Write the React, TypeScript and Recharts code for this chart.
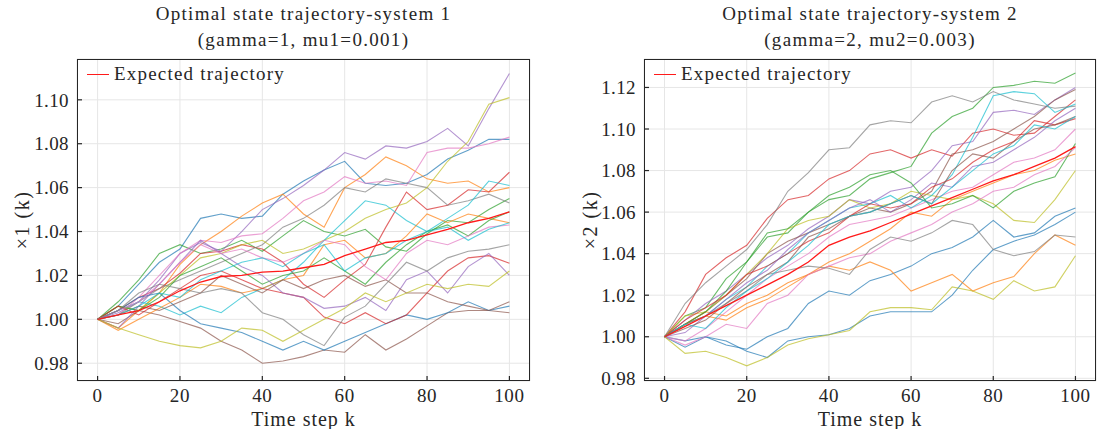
import React from 'react';
import { LineChart, Line, XAxis, YAxis, CartesianGrid } from 'recharts';

// ---- categories / ticks ----
const STEPS = [0, 5, 10, 15, 20, 25, 30, 35, 40, 45, 50, 55, 60, 65, 70, 75, 80, 85, 90, 95, 100];
const X_TICKS = [0, 20, 40, 60, 80, 100];
const Y1_TICKS = [0.98, 1.0, 1.02, 1.04, 1.06, 1.08, 1.1];
const Y2_TICKS = [0.98, 1.0, 1.02, 1.04, 1.06, 1.08, 1.1, 1.12];

const TITLE1 = ['Optimal state trajectory-system 1', '(gamma=1, mu1=0.001)'];
const TITLE2 = ['Optimal state trajectory-system 2', '(gamma=2, mu2=0.003)'];
const YLABEL1 = '\u00d71 (k)';
const YLABEL2 = '\u00d72 (k)';
const XLABEL = 'Time step k';
const LEGEND_LABEL = 'Expected trajectory';

const TAB10 = ['#1f77b4', '#ff7f0e', '#2ca02c', '#d62728', '#9467bd', '#8c564b', '#e377c2', '#7f7f7f', '#bcbd22', '#17becf'];

// ---- system 1 sample trajectories (every 5 steps) ----
const S1_BLUE_A = [1.0, 1.006, 1.016, 1.026, 1.032, 1.046, 1.048, 1.046, 1.047, 1.057, 1.063, 1.068, 1.072, 1.062, 1.061, 1.062, 1.066, 1.073, 1.077, 1.082, 1.082];
const S1_ORANGE_A = [1.0, 0.996, 1.004, 1.012, 1.025, 1.034, 1.04, 1.047, 1.053, 1.057, 1.048, 1.042, 1.06, 1.066, 1.074, 1.07, 1.064, 1.062, 1.063, 1.058, 1.06];
const S1_GREEN_A = [1.0, 1.008, 1.018, 1.03, 1.034, 1.03, 1.032, 1.036, 1.031, 1.038, 1.045, 1.04, 1.038, 1.041, 1.033, 1.031, 1.039, 1.045, 1.044, 1.05, 1.055];
const S1_RED_A = [1.0, 1.004, 1.01, 1.014, 1.021, 1.03, 1.031, 1.034, 1.032, 1.026, 1.016, 1.01, 1.018, 1.025, 1.042, 1.058, 1.05, 1.052, 1.059, 1.058, 1.067];
const S1_PURPLE_A = [1.0, 1.003, 1.008, 1.018, 1.03, 1.035, 1.031, 1.04, 1.05, 1.055, 1.061, 1.068, 1.076, 1.073, 1.079, 1.078, 1.081, 1.087, 1.079, 1.096, 1.112];
const S1_BROWN_A = [1.0, 0.998, 1.004, 1.002, 0.999, 0.996, 0.99, 0.986, 0.98, 0.981, 0.983, 0.986, 0.985, 0.993, 0.986, 0.991, 0.997, 1.003, 1.004, 1.004, 1.003];
const S1_PINK_A = [1.0, 1.002, 1.01, 1.02, 1.03, 1.036, 1.035, 1.038, 1.039, 1.046, 1.054, 1.058, 1.065, 1.062, 1.063, 1.061, 1.076, 1.078, 1.078, 1.08, 1.083];
const S1_GRAY_A = [1.0, 1.002, 1.008, 1.014, 1.018, 1.022, 1.026, 1.03, 1.034, 1.042, 1.046, 1.052, 1.06, 1.058, 1.064, 1.062, 1.06, 1.052, 1.054, 1.057, 1.053];
const S1_OLIVE_A = [1.0, 1.006, 1.004, 1.012, 1.02, 1.028, 1.03, 1.034, 1.036, 1.03, 1.032, 1.036, 1.04, 1.046, 1.05, 1.053, 1.06, 1.072, 1.081, 1.098, 1.101];
const S1_CYAN_A = [1.0, 1.004, 1.008, 1.006, 1.002, 1.006, 1.003, 1.01, 1.014, 1.018, 1.026, 1.036, 1.045, 1.054, 1.052, 1.045, 1.04, 1.046, 1.052, 1.063, 1.061];
const S1_BLUE_B = [1.0, 1.004, 1.01, 1.012, 1.004, 0.998, 0.996, 0.994, 0.99, 0.986, 0.99, 0.986, 0.99, 0.994, 0.998, 1.002, 1.0, 1.003, 1.008, 1.004, 1.006];
const S1_ORANGE_B = [1.0, 0.995, 1.0, 1.005, 1.01, 1.016, 1.015, 1.012, 1.014, 1.018, 1.02, 1.034, 1.036, 1.028, 1.03, 1.038, 1.048, 1.044, 1.048, 1.046, 1.044];
const S1_GREEN_B = [1.0, 1.006, 1.004, 1.01, 1.02, 1.024, 1.028, 1.022, 1.016, 1.02, 1.022, 1.028, 1.022, 1.016, 1.026, 1.034, 1.04, 1.043, 1.038, 1.045, 1.049];
const S1_RED_B = [1.0, 1.006, 1.002, 1.008, 1.014, 1.02, 1.022, 1.018, 1.014, 1.012, 1.01, 1.001, 0.998, 1.003, 0.998, 1.002, 1.012, 1.022, 1.028, 1.029, 1.0255];
const S1_PURPLE_B = [1.0, 0.996, 1.006, 1.016, 1.026, 1.036, 1.03, 1.024, 1.02, 1.012, 1.01, 1.005, 1.006, 1.01, 1.004, 1.018, 1.022, 1.012, 1.024, 1.03, 1.02];
const S1_BROWN_B = [1.0, 1.002, 1.006, 1.004, 1.008, 1.012, 1.02, 1.016, 1.012, 1.018, 1.014, 1.018, 1.02, 1.015, 1.018, 1.012, 1.012, 1.008, 1.006, 1.004, 1.008];
const S1_PINK_B = [1.0, 1.004, 1.008, 1.016, 1.026, 1.034, 1.03, 1.032, 1.028, 1.026, 1.03, 1.036, 1.034, 1.024, 1.018, 1.03, 1.036, 1.034, 1.038, 1.042, 1.043];
const S1_GRAY_B = [1.0, 1.004, 1.012, 1.016, 1.014, 1.012, 1.014, 1.012, 1.003, 1.0, 0.993, 0.988, 1.001, 1.006, 1.016, 1.026, 1.022, 1.028, 1.031, 1.032, 1.034];
const S1_OLIVE_B = [1.0, 0.996, 0.993, 0.99, 0.988, 0.987, 0.99, 0.996, 0.995, 0.99, 0.995, 1.0, 1.005, 1.012, 1.008, 1.012, 1.016, 1.014, 1.016, 1.015, 1.022];
const S1_CYAN_B = [1.0, 1.002, 1.006, 1.012, 1.01, 1.018, 1.022, 1.026, 1.028, 1.024, 1.03, 1.034, 1.022, 1.028, 1.03, 1.036, 1.04, 1.042, 1.036, 1.041, 1.044];
const S1_EXPECTED = [1.0, 1.002, 1.004, 1.008, 1.013, 1.017, 1.0195, 1.02, 1.0215, 1.022, 1.0235, 1.025, 1.029, 1.032, 1.035, 1.036, 1.0385, 1.041, 1.044, 1.046, 1.049];

// ---- system 2 sample trajectories (every 5 steps) ----
const S2_BLUE_A = [1.0, 0.998, 1.0, 0.996, 0.994, 1.0, 1.004, 1.016, 1.022, 1.02, 1.027, 1.03, 1.034, 1.04, 1.043, 1.048, 1.056, 1.048, 1.05, 1.058, 1.062];
const S2_ORANGE_A = [1.0, 1.006, 1.01, 1.008, 1.014, 1.018, 1.024, 1.03, 1.036, 1.04, 1.046, 1.052, 1.06, 1.058, 1.066, 1.07, 1.074, 1.078, 1.08, 1.085, 1.088];
const S2_GREEN_A = [1.0, 1.01, 1.014, 1.028, 1.036, 1.048, 1.05, 1.06, 1.066, 1.068, 1.076, 1.079, 1.082, 1.098, 1.106, 1.11, 1.12, 1.121, 1.123, 1.122, 1.127];
const S2_RED_A = [1.0, 1.012, 1.03, 1.038, 1.044, 1.057, 1.066, 1.068, 1.076, 1.08, 1.088, 1.09, 1.086, 1.09, 1.087, 1.098, 1.1, 1.097, 1.098, 1.106, 1.114];
const S2_PURPLE_A = [1.0, 1.008, 1.016, 1.022, 1.03, 1.038, 1.044, 1.052, 1.058, 1.066, 1.064, 1.07, 1.072, 1.08, 1.092, 1.094, 1.108, 1.109, 1.107, 1.114, 1.12];
const S2_BROWN_A = [1.0, 1.006, 1.012, 1.02, 1.028, 1.04, 1.046, 1.05, 1.054, 1.058, 1.062, 1.06, 1.064, 1.07, 1.088, 1.09, 1.094, 1.1, 1.106, 1.114, 1.119];
const S2_PINK_A = [1.0, 0.998, 1.004, 1.012, 1.02, 1.028, 1.034, 1.04, 1.048, 1.054, 1.056, 1.058, 1.062, 1.066, 1.07, 1.072, 1.078, 1.084, 1.086, 1.09, 1.1];
const S2_GRAY_A = [1.0, 1.016, 1.026, 1.034, 1.042, 1.054, 1.07, 1.079, 1.09, 1.091, 1.102, 1.104, 1.103, 1.113, 1.116, 1.113, 1.118, 1.114, 1.112, 1.11, 1.111];
const S2_OLIVE_A = [1.0, 1.01, 1.012, 1.02, 1.03, 1.04, 1.052, 1.056, 1.058, 1.066, 1.062, 1.064, 1.07, 1.068, 1.066, 1.068, 1.064, 1.056, 1.055, 1.066, 1.08];
const S2_CYAN_A = [1.0, 1.006, 1.01, 1.018, 1.024, 1.034, 1.04, 1.05, 1.056, 1.062, 1.064, 1.068, 1.062, 1.068, 1.078, 1.096, 1.116, 1.118, 1.117, 1.108, 1.112];
const S2_BLUE_B = [1.0, 0.995, 1.0, 0.998, 0.993, 0.99, 0.998, 1.0, 1.001, 1.004, 1.01, 1.012, 1.012, 1.012, 1.02, 1.032, 1.042, 1.046, 1.049, 1.054, 1.06];
const S2_ORANGE_B = [1.0, 1.006, 1.012, 1.01, 1.016, 1.02, 1.026, 1.03, 1.034, 1.032, 1.036, 1.032, 1.022, 1.026, 1.03, 1.022, 1.026, 1.029, 1.04, 1.049, 1.044];
const S2_GREEN_B = [1.0, 1.006, 1.012, 1.022, 1.036, 1.05, 1.052, 1.06, 1.068, 1.072, 1.078, 1.08, 1.074, 1.062, 1.064, 1.068, 1.062, 1.07, 1.074, 1.077, 1.093];
const S2_RED_B = [1.0, 1.008, 1.014, 1.02, 1.03, 1.034, 1.04, 1.046, 1.05, 1.058, 1.064, 1.062, 1.064, 1.072, 1.076, 1.084, 1.09, 1.094, 1.104, 1.102, 1.105];
const S2_PURPLE_B = [1.0, 1.002, 1.01, 1.018, 1.026, 1.032, 1.042, 1.05, 1.056, 1.062, 1.066, 1.06, 1.066, 1.074, 1.072, 1.082, 1.084, 1.09, 1.096, 1.104, 1.11];
const S2_BROWN_B = [1.0, 1.004, 1.008, 1.016, 1.024, 1.03, 1.036, 1.048, 1.052, 1.058, 1.06, 1.064, 1.068, 1.064, 1.08, 1.088, 1.086, 1.094, 1.1, 1.102, 1.106];
const S2_PINK_B = [1.0, 0.996, 1.0, 1.006, 1.004, 1.016, 1.02, 1.03, 1.034, 1.038, 1.04, 1.046, 1.05, 1.054, 1.06, 1.064, 1.07, 1.072, 1.078, 1.082, 1.091];
const S2_GRAY_B = [1.0, 1.006, 1.01, 1.016, 1.022, 1.03, 1.032, 1.034, 1.033, 1.03, 1.042, 1.048, 1.046, 1.05, 1.056, 1.054, 1.042, 1.039, 1.041, 1.049, 1.048];
const S2_OLIVE_B = [1.0, 0.992, 0.993, 0.99, 0.986, 0.99, 0.996, 0.999, 1.001, 1.003, 1.012, 1.014, 1.014, 1.013, 1.024, 1.022, 1.018, 1.027, 1.022, 1.024, 1.039];
const S2_CYAN_B = [1.0, 1.006, 1.004, 1.014, 1.022, 1.028, 1.036, 1.044, 1.054, 1.058, 1.06, 1.064, 1.068, 1.064, 1.072, 1.08, 1.088, 1.092, 1.102, 1.1, 1.106];
const S2_EXPECTED = [1.0, 1.005, 1.01, 1.015, 1.02, 1.025, 1.03, 1.036, 1.044, 1.048, 1.051, 1.055, 1.059, 1.063, 1.067, 1.071, 1.075, 1.078, 1.082, 1.086, 1.0915];

const S1_SAMPLES = [S1_BLUE_A, S1_ORANGE_A, S1_GREEN_A, S1_RED_A, S1_PURPLE_A, S1_BROWN_A, S1_PINK_A, S1_GRAY_A, S1_OLIVE_A, S1_CYAN_A,
  S1_BLUE_B, S1_ORANGE_B, S1_GREEN_B, S1_RED_B, S1_PURPLE_B, S1_BROWN_B, S1_PINK_B, S1_GRAY_B, S1_OLIVE_B, S1_CYAN_B];
const S2_SAMPLES = [S2_BLUE_A, S2_ORANGE_A, S2_GREEN_A, S2_RED_A, S2_PURPLE_A, S2_BROWN_A, S2_PINK_A, S2_GRAY_A, S2_OLIVE_A, S2_CYAN_A,
  S2_BLUE_B, S2_ORANGE_B, S2_GREEN_B, S2_RED_B, S2_PURPLE_B, S2_BROWN_B, S2_PINK_B, S2_GRAY_B, S2_OLIVE_B, S2_CYAN_B];

function buildRows(samples: number[][], expected: number[]) {
  return STEPS.map((s, i) => {
    const row: Record<string, number> = { step: s, expected: expected[i] };
    samples.forEach((arr, j) => { row['s' + j] = arr[i]; });
    return row;
  });
}

const FONT = '"Liberation Serif", "DejaVu Serif", serif';
const TEXT = '#262626';

type PanelProps = {
  left: number;
  samples: number[][];
  expected: number[];
  yTicks: number[];
  yDomain: [number, number];
  yAxisWidth: number;
  rightMargin: number;
  title: string[];
  yLabel: string;
  yLabelX: number;
};

function Panel(p: PanelProps) {
  const W = 549;
  const H = 429;
  const rows = buildRows(p.samples, p.expected);
  const plotLeft = p.yAxisWidth;
  const plotRight = W - p.rightMargin;
  const plotTop = 59;
  const plotBottom = 381;
  const cx = (plotLeft + plotRight) / 2;
  return (
    <div style={{ position: 'absolute', left: p.left, top: 0, width: W, height: H, fontFamily: FONT, color: TEXT }}>
      <LineChart width={W} height={H} data={rows} margin={{ top: plotTop, right: p.rightMargin, bottom: 18, left: 0 }}>
        <CartesianGrid stroke="#e6e6e6" strokeWidth={1} />
        <XAxis
          dataKey="step"
          type="number"
          domain={[-5, 105]}
          ticks={X_TICKS}
          allowDataOverflow
          height={30}
          axisLine={false}
          tickSize={-5}
          tickMargin={13}
          tickLine={{ stroke: TEXT, strokeWidth: 1.2 }}
          tick={{ fontFamily: FONT, fontSize: 19, fill: TEXT, letterSpacing: 0.6 }}
        />
        <YAxis
          type="number"
          domain={p.yDomain}
          ticks={p.yTicks}
          allowDataOverflow
          width={p.yAxisWidth}
          axisLine={false}
          tickSize={-5}
          tickMargin={13}
          tickLine={{ stroke: TEXT, strokeWidth: 1.2 }}
          tickFormatter={(v: number) => v.toFixed(2)}
          tick={{ fontFamily: FONT, fontSize: 19, fill: TEXT, letterSpacing: 0.4 }}
        />
        {p.samples.map((_, j) => (
          <Line
            key={j}
            dataKey={'s' + j}
            stroke={TAB10[j % 10]}
            strokeOpacity={0.7}
            strokeWidth={1.1}
            dot={false}
            isAnimationActive={false}
          />
        ))}
        <Line dataKey="expected" stroke="#ff1a1a" strokeWidth={1.3} dot={false} isAnimationActive={false} />
      </LineChart>
      {/* frame */}
      <div style={{ position: 'absolute', left: plotLeft, top: plotTop, width: plotRight - plotLeft, height: plotBottom - plotTop, border: '1.2px solid #262626', boxSizing: 'border-box', pointerEvents: 'none' }} />
      {/* titles */}
      <div style={{ position: 'absolute', left: cx - 250, width: 500, top: 1, textAlign: 'center', fontSize: 19, lineHeight: '26px', whiteSpace: 'nowrap', letterSpacing: 1.3 }}>
        <div>{p.title[0]}</div>
        <div>{p.title[1]}</div>
      </div>
      {/* legend */}
      <div style={{ position: 'absolute', left: plotLeft + 10, top: 63, display: 'flex', alignItems: 'center', fontSize: 19, lineHeight: '22px', letterSpacing: 1.2 }}>
        <div style={{ width: 22, height: 0, borderTop: '1.5px solid #ff1a1a', marginRight: 5 }} />
        <span>{LEGEND_LABEL}</span>
      </div>
      {/* x label */}
      <div style={{ position: 'absolute', left: cx - 100, width: 200, top: 408, textAlign: 'center', fontSize: 20, lineHeight: '22px', letterSpacing: 1 }}>{XLABEL}</div>
      {/* y label */}
      <div style={{ position: 'absolute', left: p.yLabelX - 60, width: 120, top: (plotTop + plotBottom) / 2 - 11, textAlign: 'center', fontSize: 20, lineHeight: '22px', letterSpacing: 1.5, transform: 'rotate(-90deg)' }}>{p.yLabel}</div>
    </div>
  );
}

export default function App() {
  return (
    <div style={{ position: 'absolute', left: 0, top: 0, width: 1099, height: 429, background: '#fff', overflow: 'hidden' }}>
      <Panel
        left={0}
        samples={S1_SAMPLES}
        expected={S1_EXPECTED}
        yTicks={Y1_TICKS}
        yDomain={[0.9719, 1.1186]}
        yAxisWidth={77}
        rightMargin={19}
        title={TITLE1}
        yLabel={YLABEL1}
        yLabelX={22}
      />
      <Panel
        left={549}
        samples={S2_SAMPLES}
        expected={S2_EXPECTED}
        yTicks={Y2_TICKS}
        yDomain={[0.9787, 1.1337]}
        yAxisWidth={95}
        rightMargin={2}
        title={TITLE2}
        yLabel={YLABEL2}
        yLabelX={41}
      />
    </div>
  );
}
